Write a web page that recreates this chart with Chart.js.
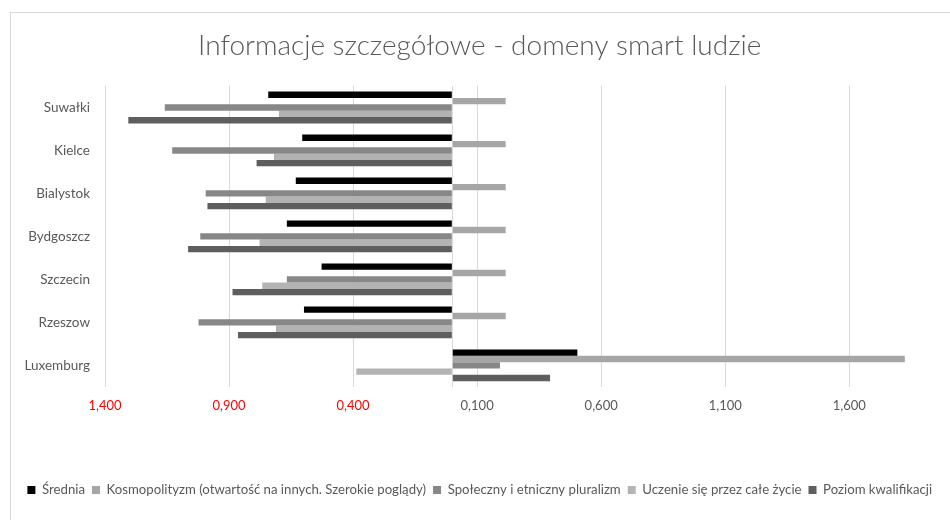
<!DOCTYPE html>
<html>
<head>
<meta charset="utf-8">
<script src="https://cdn.jsdelivr.net/npm/chart.js@4"></script>
<style>
  html, body { margin: 0; padding: 0; background: #fff; overflow: hidden; width: 950px; height: 520px; }
  #box {
    position: absolute; left: 10px; top: 12px;
    width: 953px; height: 520px;
    border-top: 1px solid #d9d9d9; border-left: 1px solid #d9d9d9;
  }
</style>
</head>
<body>
<div id="box"><canvas id="chart" width="953" height="507"></canvas></div>
<script>
// Categories (top to bottom) and series values
const cities = ['Suwałki', 'Kielce', 'Bialystok', 'Bydgoszcz', 'Szczecin', 'Rzeszow', 'Luxemburg'];
const srednia = [-0.742, -0.605, -0.631, -0.667, -0.527, -0.598, 0.504];
const kosmopolityzm = [0.215, 0.215, 0.215, 0.215, 0.215, 0.215, 1.824];
const pluralizm = [-1.159, -1.129, -0.994, -1.016, -0.667, -1.023, 0.192];
const uczenie = [-0.699, -0.719, -0.752, -0.777, -0.766, -0.711, -0.387];
const kwalifikacje = [-1.306, -0.789, -0.987, -1.065, -0.886, -0.864, 0.394];
const xTicks = [-1.4, -0.9, -0.4, 0, 0.1, 0.6, 1.1, 1.6];

const textColor = '#595959';
const font = 'Lato, "Open Sans", sans-serif';

const ctx = document.getElementById('chart').getContext('2d');

new Chart(ctx, {
    type: 'bar',
    data: {
        labels: cities,
        datasets: [
            { label: 'Średnia', data: srednia, backgroundColor: '#000000' },
            { label: 'Kosmopolityzm (otwartość na innych. Szerokie poglądy)', data: kosmopolityzm, backgroundColor: '#a6a6a6' },
            { label: 'Społeczny i etniczny pluralizm', data: pluralizm, backgroundColor: '#878787' },
            { label: 'Uczenie się przez całe życie', data: uczenie, backgroundColor: '#b3b3b3' },
            { label: 'Poziom kwalifikacji', data: kwalifikacje, backgroundColor: '#5e5e5e' }
        ]
    },
    options: {
        indexAxis: 'y',
        responsive: false,
        animation: false,
        categoryPercentage: 0.74,
        barPercentage: 1.0,
        layout: { padding: { left: 0, right: 15.5, top: 0, bottom: 13.5 } },
        plugins: {
            title: {
                display: true,
                text: 'Informacje szczegółowe - domeny smart ludzie',
                color: textColor,
                font: { family: font, size: 28, weight: 300 },
                padding: { top: 16, bottom: 23.4 }
            },
            legend: {
                position: 'bottom',
                labels: {
                    color: textColor,
                    font: { family: font, size: 13.2 },
                    boxWidth: 8,
                    boxHeight: 8,
                    padding: 7
                }
            },
            tooltip: { enabled: false }
        },
        scales: {
            x: {
                min: -1.4,
                max: 2.0,
                afterBuildTicks: function (scale) {
                    scale.ticks = xTicks.map(v => ({ value: v }));
                },
                afterFit: function (scale) {
                    scale.height = 89.5;
                },
                border: { display: false },
                grid: { color: '#d9d9d9', drawTicks: false },
                ticks: {
                    padding: 11,
                    font: { family: font, size: 13 },
                    color: function (c) {
                        return c.tick.value < 0 ? '#ff0000' : textColor;
                    },
                    callback: function (value) {
                        if (value === 0) return '';
                        return Math.abs(value).toFixed(3).replace('.', ',');
                    }
                }
            },
            y: {
                afterFit: function (scale) {
                    scale.width = 94;
                },
                border: { display: false },
                grid: { display: false, drawTicks: false },
                ticks: {
                    padding: 15,
                    color: textColor,
                    font: { family: font, size: 13.5 }
                }
            }
        }
    }
});
</script>
</body>
</html>
